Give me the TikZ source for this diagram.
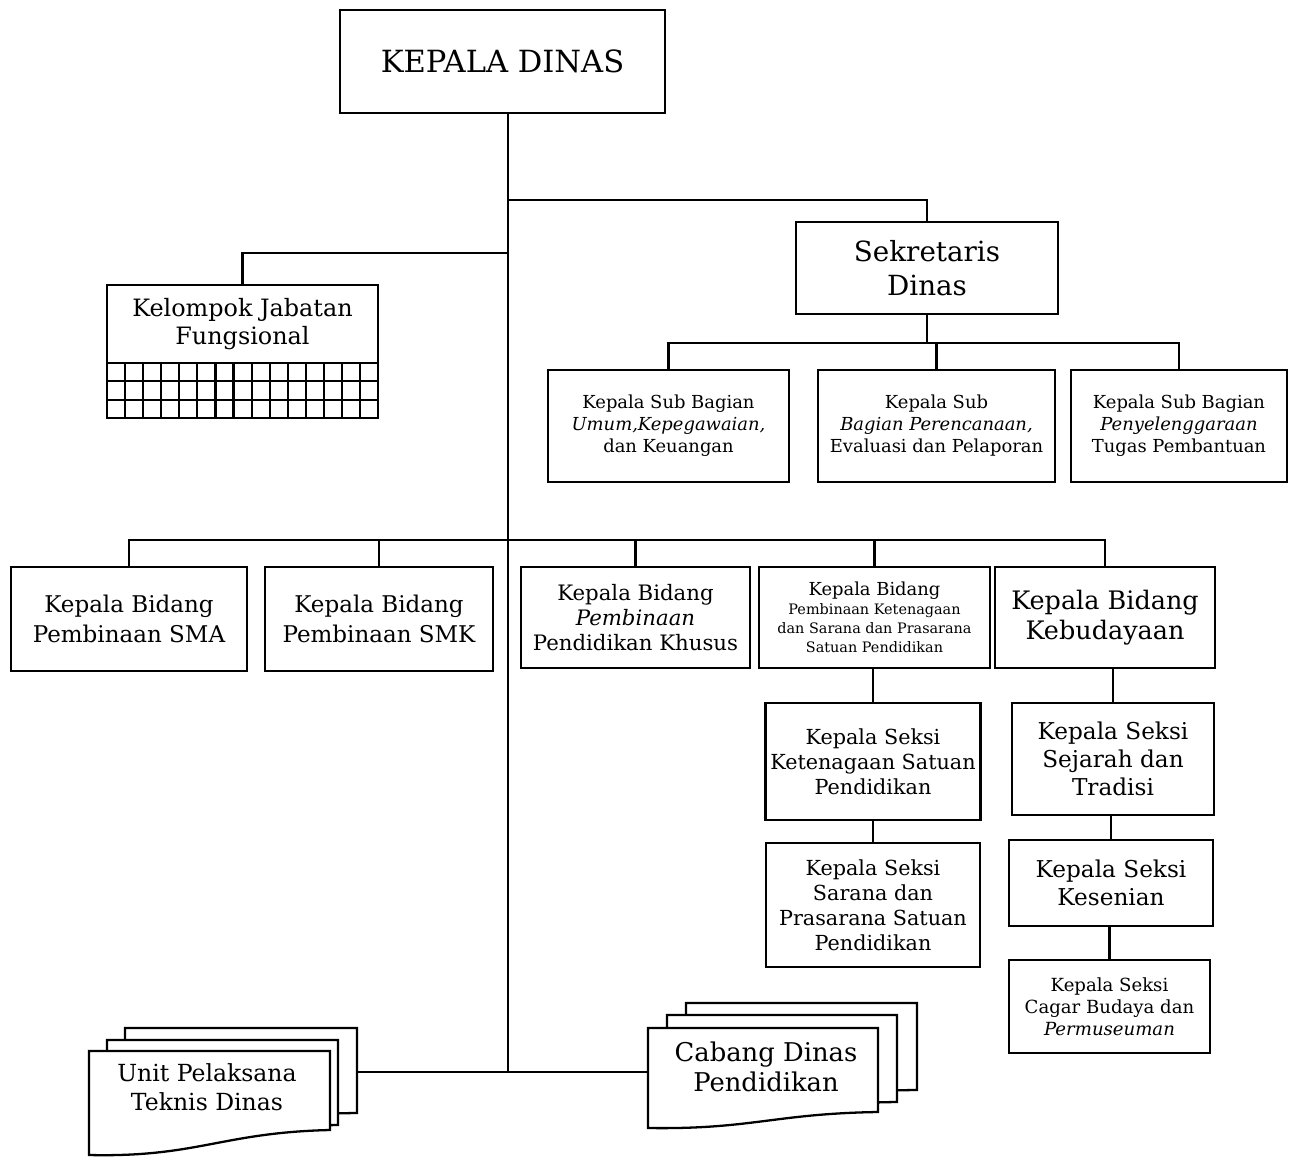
\documentclass[tikz,border=0pt]{standalone}
\usepackage{fontspec}
\setmainfont{DejaVu Serif}
\usetikzlibrary{calc}
\newcommand{\fsz}[2]{\fontsize{#1}{#2}\selectfont}
\tikzset{
  conn/.style={line width=1.2pt},
  unit/.style={draw, line width=1.3pt, rectangle, fill=white, inner sep=2pt, outer sep=0pt, align=center},
  sub/.style={unit, minimum height=2.24cm, font=\fsz{10.2}{12.5}},
  bidang/.style={unit, font=\fsz{13.1}{17}},
  seksi/.style={unit, font=\fsz{11.8}{14.2}},
}
% page with a wavy lower edge: x1, top, x2, right bottom, left bottom
\newcommand{\docpage}[5]{%
  \draw[unit] (#1,#2) -- (#3,#2) -- (#3,#4)
    .. controls ({#1+0.55*(#3-#1)},{#4+0.1*(#5-#4)}) and ({#1+0.45*(#3-#1)},{#5+0.1*(#5-#4)}) .. (#1,#5) -- cycle;}

\begin{document}
\begin{tikzpicture}[x=0.02cm, y=-0.02cm]
  \useasboundingbox (0,0) rectangle (1292,1157);

  \node[unit, minimum width=6.5cm, minimum height=2.06cm, font=\fsz{17.4}{20}] (kadis) at (502.5,61.5) {KEPALA DINAS};
  \node[unit, minimum width=5.24cm, minimum height=1.84cm, font=\fsz{15.8}{19.3}] (sekdis) at (927,268) {Sekretaris\\Dinas};

  \node[sub, minimum width=4.82cm] (sb1) at (668.5,426) {Kepala Sub Bagian\\\textit{Umum,Kepegawaian,}\\dan Keuangan};
  \node[sub, minimum width=4.74cm] (sb2) at (936.5,426) {Kepala Sub\\\textit{Bagian Perencanaan,}\\Evaluasi dan Pelaporan};
  \node[sub, minimum width=4.32cm] (sb3) at (1179,426) {Kepala Sub Bagian\\\textit{Penyelenggaraan}\\Tugas Pembantuan};

  \node[unit, minimum width=5.42cm, minimum height=1.56cm, font=\fsz{13.6}{15.9}] (kjf) at (242.5,324) {Kelompok Jabatan\\Fungsional};
  \node[unit, minimum width=5.42cm, minimum height=1.1cm, anchor=north] (kjfgrid) at (kjf.south) {};
  \foreach \i in {1,...,14}
    \draw[conn] ($(kjfgrid.north west)+(\i*18.07,0)$) -- ++(0,55);
  \foreach \j in {1,2}
    \draw[conn] ($(kjfgrid.north west)+(0,\j*18.33)$) -- ++(271,0);

  \node[bidang, minimum width=4.72cm, minimum height=2.08cm] (bd1) at (129,619) {Kepala Bidang\\Pembinaan SMA};
  \node[bidang, minimum width=4.56cm, minimum height=2.08cm] (bd2) at (379,619) {Kepala Bidang\\Pembinaan SMK};
  \node[bidang, minimum width=4.58cm, minimum height=2.02cm, font=\fsz{12.1}{14.2}] (bd3) at (635.5,617.5) {Kepala Bidang\\\textit{Pembinaan}\\Pendidikan Khusus};
  \node[unit, minimum width=4.62cm, minimum height=2.02cm, font=\fsz{8.2}{10.8}] (bd4) at (874.5,617.5) {{\fsz{10.2}{10.8}Kepala Bidang}\\Pembinaan Ketenagaan\\dan Sarana dan Prasarana\\Satuan Pendidikan};
  \node[bidang, minimum width=4.4cm, minimum height=2.02cm, font=\fsz{14.5}{17}] (bd5) at (1105,617.5) {Kepala Bidang\\Kebudayaan};

  \node[seksi, minimum width=4.3cm, minimum height=2.34cm] (sk1) at (873,761.5) {Kepala Seksi\\Ketenagaan Satuan\\Pendidikan};
  \node[seksi, minimum width=4.28cm, minimum height=2.48cm] (sk2) at (873,905) {Kepala Seksi\\Sarana dan\\Prasarana Satuan\\Pendidikan};
  \node[seksi, minimum width=4.04cm, minimum height=2.24cm, font=\fsz{13.2}{15.9}] (sk3) at (1113,759) {Kepala Seksi\\Sejarah dan\\Tradisi};
  \node[seksi, minimum width=4.08cm, minimum height=1.72cm, font=\fsz{13.2}{15.9}] (sk4) at (1111,883) {Kepala Seksi\\Kesenian};
  \node[seksi, minimum width=4.02cm, minimum height=1.86cm, font=\fsz{10.3}{12.5}] (sk5) at (1109.5,1006.5) {Kepala Seksi\\Cagar Budaya dan\\\textit{Permuseuman}};

  \docpage{125}{1028}{357}{1113}{1125}
  \docpage{107}{1040}{338}{1125}{1140}
  \docpage{89}{1051}{330}{1130}{1155}
  \node[font=\fsz{13.4}{16.4}, align=center] (upt) at (207,1087) {Unit Pelaksana\\Teknis Dinas};
  \docpage{686}{1003}{917}{1090}{1100}
  \docpage{667}{1015}{897}{1102}{1115}
  \docpage{648}{1028}{878}{1112}{1128}
  \node[font=\fsz{14.7}{17}, align=center] (cabdin) at (766,1067) {Cabang Dinas\\Pendidikan};

  \coordinate (trunk) at (508,1072);
  \coordinate (j1) at (508,200);
  \coordinate (j2) at (508,253);
  \coordinate (j3) at (508,540);
  \coordinate (sbus) at (927,343);
  \coordinate (upt-e) at (357,1072);
  \coordinate (cabdin-w) at (648,1072);

  \draw[conn] (kadis.south -| trunk) -- (trunk);
  \draw[conn] (j1) -| (sekdis.north);
  \draw[conn] (j2) -| (kjf.north);
  \draw[conn] (sekdis.south) -- (sbus);
  \draw[conn] (sb1.north) |- (sbus) -| (sb3.north);
  \draw[conn] (sb2.north) -- (sb2.north |- sbus);
  \draw[conn] (bd1.north) |- (bd5.north |- j3) -- (bd5.north);
  \foreach \n in {bd2,bd3,bd4}
    \draw[conn] (\n.north) -- (\n.north |- j3);
  \draw[conn] (bd4.south -| sk1.north) -- (sk1.north);
  \draw[conn] (sk1.south) -- (sk2.north);
  \draw[conn] (bd5.south -| sk3.north) -- (sk3.north);
  \draw[conn] (sk3.south -| sk4.north) -- (sk4.north);
  \draw[conn] (sk4.south -| sk5.north) -- (sk5.north);
  \draw[conn] (upt-e) -- (cabdin-w);
\end{tikzpicture}
\end{document}
